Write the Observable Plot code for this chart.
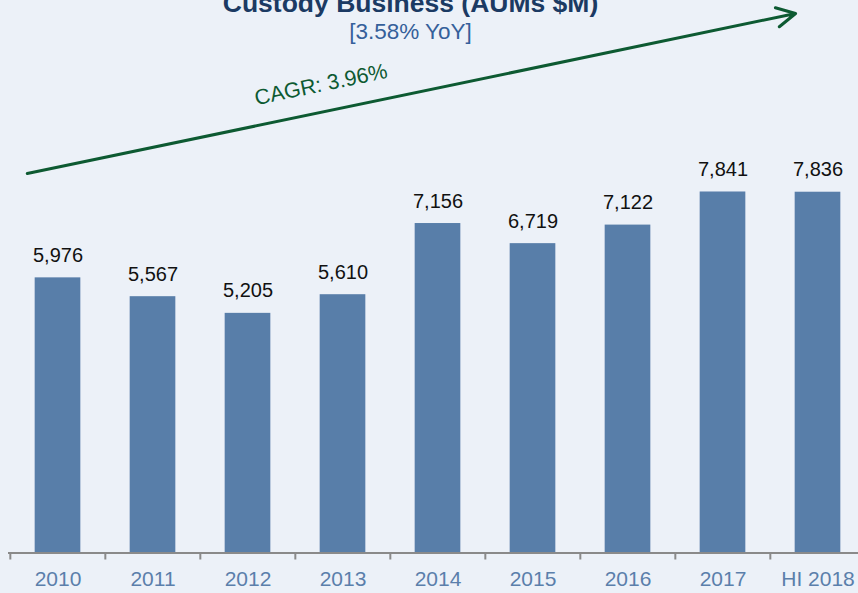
<!DOCTYPE html>
<html>
<head>
<meta charset="utf-8">
<script src="https://cdn.jsdelivr.net/npm/d3@7"></script>
<script src="https://cdn.jsdelivr.net/npm/@observablehq/plot@0.6"></script>
<style>
  html, body { margin: 0; padding: 0; background: #ecf1f8; overflow: hidden; }
</style>
</head>
<body>
<div id="chart"></div>
<script>
// ---- data ----
const categories = ["2010", "2011", "2012", "2013", "2014", "2015", "2016", "2017", "HI 2018"];
const aums = [5976, 5567, 5205, 5610, 7156, 6719, 7122, 7841, 7836];
const titleText = "Custody Business (AUMs $M)";
const subtitleText = "[3.58% YoY]";
const cagrText = "CAGR: 3.96%";
// trend arrow (value space)
const arrowFrom = "2010";
const arrowTo = "HI 2018";
const arrowStartValue = 8280;
const arrowEndValue = 11718;
const cagrAt = "2013";
const cagrValue = 10150;

const rows = categories.map((c, i) => ({cat: c, v: aums[i]}));
const fmt = d3.format(",");

const W = 858, H = 593;
const xRange = [8, 866.1];
const step = (xRange[1] - xRange[0]) / categories.length;
const barInset = (step - 46) / 2;

const navy = "#1b3a63";
const subBlue = "#35609a";
const barColor = "#587ea9";
const axisBlue = "#5b7fab";
const green = "#0d5a32";
const grey = "#8a8a8a";

const chart = Plot.plot({
  width: W,
  height: H,
  marginLeft: 8,
  marginRight: 0,
  marginTop: 0,
  marginBottom: 40.5,
  style: {background: "#ecf1f8", fontFamily: "'Liberation Sans', Arial, sans-serif", overflow: "visible"},
  x: {domain: categories, range: xRange, padding: 0, axis: null},
  y: {domain: [0, 12000], axis: null},
  marks: [
    Plot.barY(rows, {x: "cat", y: "v", fill: barColor, insetLeft: barInset, insetRight: barInset}),
    Plot.ruleY([0], {stroke: grey, strokeWidth: 2}),
    Plot.ruleX(categories, {x: d => d, y1: 0, y2: 0, insetBottom: -7, dx: -step / 2, stroke: grey, strokeWidth: 2}),
    Plot.axisX({tickSize: 0, tickPadding: 18.5, fontSize: 21, color: axisBlue}),
    Plot.text(rows, {x: "cat", y: "v", text: d => fmt(d.v), dy: -16, lineAnchor: "bottom", fontSize: 20, fill: "#111"}),
    Plot.arrow([{x1: arrowFrom, x2: arrowTo, y1: arrowStartValue, y2: arrowEndValue}], {
      x1: "x1", y1: "y1", x2: "x2", y2: "y2",
      dx: -22.4, insetStart: -8.5, stroke: green, strokeWidth: 3, headLength: 10.5, headAngle: 55
    }),
    Plot.text([{x: cagrAt, y: cagrValue, t: cagrText}], {x: "x", y: "y", text: "t", rotate: -11.8, dx: -22, dy: -1, fontSize: 21.5, fill: green}),
    Plot.text([titleText], {frameAnchor: "top", text: d => d, lineAnchor: "bottom", dy: 11.5, dx: -23, fontSize: 26.5, fontWeight: "bold", fill: navy}),
    Plot.text([subtitleText], {frameAnchor: "top", text: d => d, lineAnchor: "bottom", dy: 38.5, dx: -23, fontSize: 22.5, fill: subBlue})
  ]
});
document.getElementById("chart").appendChild(chart);
</script>
</body>
</html>
